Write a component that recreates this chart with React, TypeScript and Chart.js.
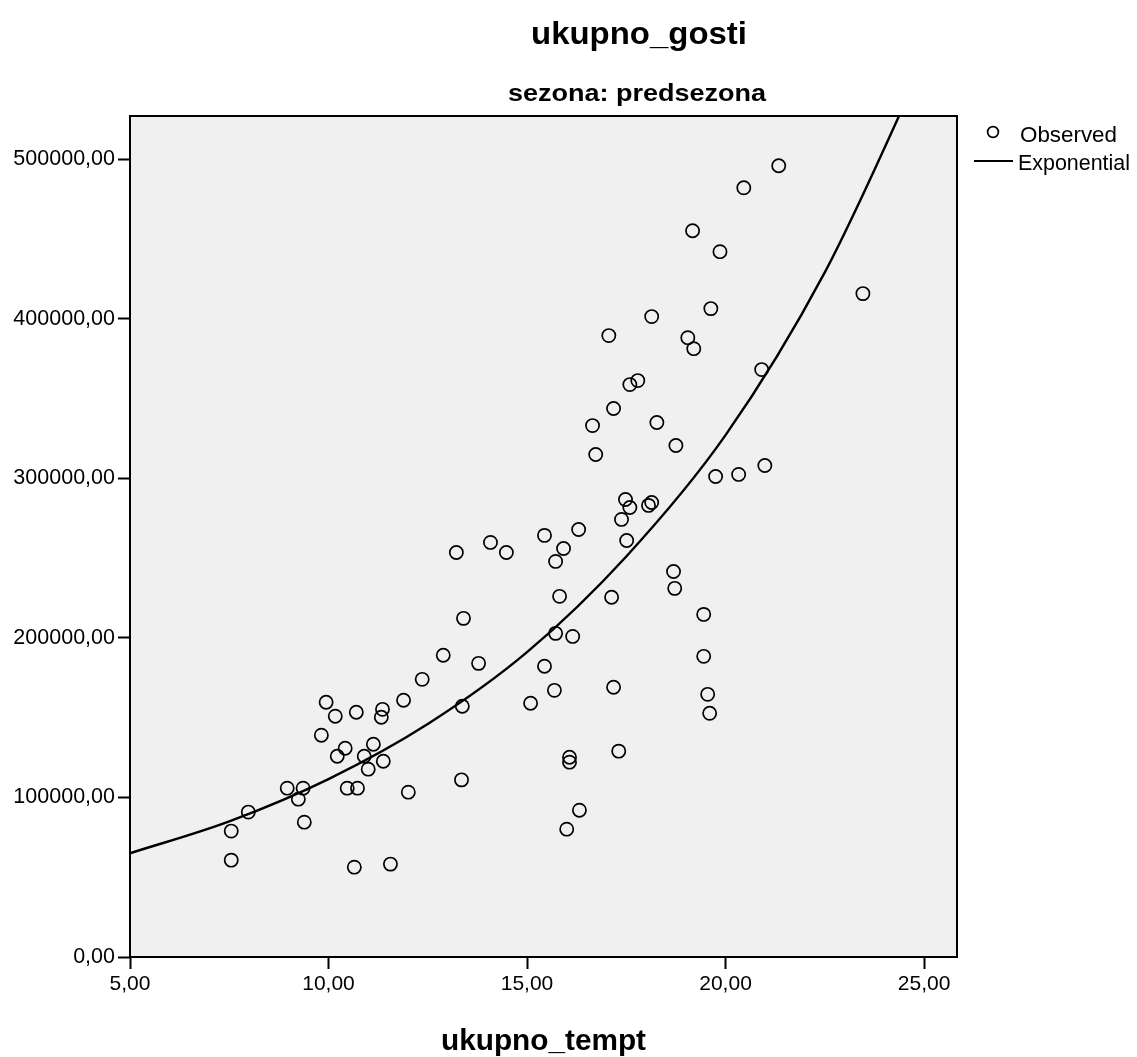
import React, { useEffect, useRef } from "react";
import { Chart, registerables } from "chart.js";

Chart.register(...registerables);

// ---------- texts ----------
const chartTitle = "ukupno_gosti";
const chartSubtitle = "sezona: predsezona";
const xAxisTitle = "ukupno_tempt";
const legendObserved = "Observed";
const legendFit = "Exponential";

// ---------- observed data (ukupno_tempt, ukupno_gosti) ----------
const observedX = [
  7.55, 7.55, 7.98, 8.96, 9.24, 9.36, 9.39, 9.82, 9.94, 10.17,
  10.22, 10.42, 10.47, 10.70, 10.73, 10.65, 10.90, 11.00, 11.13, 11.33,
  11.36, 11.38, 11.56, 11.89, 12.01, 12.36, 12.89, 13.22, 13.35, 13.37,
  13.40, 13.78, 14.08, 14.48, 15.09, 15.44, 15.44, 15.69, 15.72, 15.72,
  15.82, 15.92, 16.00, 16.07, 16.07, 16.15, 16.32, 16.30, 16.65, 16.73,
  17.06, 17.13, 17.18, 17.18, 17.31, 17.38, 17.48, 17.51, 17.59, 17.59,
  17.79, 18.14, 18.06, 18.14, 18.27, 18.69, 18.75, 18.72, 19.05, 19.20,
  19.17, 19.45, 19.45, 19.55, 19.60, 19.63, 19.75, 19.86, 20.46, 20.33,
  20.91, 20.99, 21.34, 23.46,
];
const observedY = [
  78900, 60700, 90800, 105800, 98900, 105800, 84500, 139000, 159600, 150900,
  125800, 130800, 105800, 153400, 105800, 56300, 125800, 117700, 133300, 150200,
  155200, 122700, 58200, 160900, 103300, 174000, 189100, 253500, 111000, 157100,
  212200, 184000, 259800, 253500, 159000, 264200, 182200, 167100, 247900, 202800,
  226000, 256000, 80100, 125200, 122100, 200900, 92000, 267900, 333000, 314900,
  389400, 225400, 343700, 169000, 129000, 274200, 286700, 261000, 281700, 358700,
  361200, 284800, 283000, 401300, 334900, 241600, 320500, 231000, 388100, 381200,
  455100, 214700, 188400, 164600, 152700, 406300, 301100, 442000, 482000, 302400,
  368100, 308000, 495800, 415700,
];

// ---------- fitted exponential curve ----------
const curveX = [5, 7.5, 10, 12.5, 15, 17.5, 20, 22.5, 25];
const curveY = [65000, 85000, 111500, 146000, 191000, 251000, 327000, 429000, 561000];

// ---------- axes ----------
const xTicks = [5, 10, 15, 20, 25];
const yTicks = [0, 100000, 200000, 300000, 400000, 500000];
const xMin = 5;
const xMax = 25.83;
const yMin = 0;
const yMax = 527000;

const FONT = "'Liberation Sans', Arial, Helvetica, sans-serif";
const fmt = (v: number) => v.toFixed(2).replace(".", ",");

function drawFitted(
  ctx: CanvasRenderingContext2D,
  text: string,
  x: number,
  baseline: number,
  font: string,
  width: number,
  align: "center" | "left"
) {
  ctx.save();
  ctx.font = font;
  const w = ctx.measureText(text).width;
  const s = width / w;
  ctx.translate(x, baseline);
  ctx.scale(s, 1);
  ctx.fillStyle = "#000";
  ctx.textAlign = align;
  ctx.textBaseline = "alphabetic";
  ctx.fillText(text, 0, 0);
  ctx.restore();
}

const decorPlugin = {
  id: "decor",
  beforeDraw(chart: any) {
    const { ctx, chartArea: a, width, height } = chart;
    ctx.save();
    ctx.fillStyle = "#ffffff";
    ctx.fillRect(0, 0, width, height);
    ctx.fillStyle = "#f0f0f0";
    ctx.fillRect(a.left, a.top, a.right - a.left, a.bottom - a.top);
    ctx.restore();
  },
  afterDraw(chart: any) {
    const { ctx, chartArea: a } = chart;
    // frame
    ctx.save();
    ctx.strokeStyle = "#000";
    ctx.lineWidth = 2;
    ctx.strokeRect(a.left, a.top, a.right - a.left, a.bottom - a.top);
    ctx.restore();

    // titles
    drawFitted(ctx, chartTitle, 639, 44, `bold 31px ${FONT}`, 216, "center");
    drawFitted(ctx, chartSubtitle, 637, 101, `bold 24px ${FONT}`, 258, "center");
    drawFitted(ctx, xAxisTitle, (a.left + a.right) / 2, 1050, `bold 30px ${FONT}`, 205, "center");

    // legend
    ctx.save();
    ctx.strokeStyle = "#000";
    ctx.lineWidth = 1.7;
    ctx.beginPath();
    ctx.arc(993, 132, 5.4, 0, Math.PI * 2);
    ctx.stroke();
    ctx.lineWidth = 2.2;
    ctx.beginPath();
    ctx.moveTo(974, 161);
    ctx.lineTo(1013, 161);
    ctx.stroke();
    ctx.restore();
    drawFitted(ctx, legendObserved, 1020, 142, `22px ${FONT}`, 97, "left");
    drawFitted(ctx, legendFit, 1018, 170, `22px ${FONT}`, 112, "left");
  },
};

export default function App() {
  const ref = useRef<HTMLCanvasElement>(null);

  useEffect(() => {
    const canvas = ref.current;
    if (!canvas) return;
    const chart = new Chart(canvas, {
      type: "scatter",
      data: {
        datasets: [
          {
            type: "line",
            label: legendFit,
            data: curveX.map((x, i) => ({ x, y: curveY[i] })),
            borderColor: "#000",
            borderWidth: 2.4,
            pointRadius: 0,
            cubicInterpolationMode: "monotone",
            fill: false,
            clip: 0,
          } as any,
          {
            type: "scatter",
            label: legendObserved,
            data: observedX.map((x, i) => ({ x, y: observedY[i] })),
            pointRadius: 6.6,
            pointBorderWidth: 1.7,
            pointBackgroundColor: "rgba(0,0,0,0)",
            pointBorderColor: "#000",
            showLine: false,
          } as any,
        ],
      },
      options: {
        responsive: false,
        animation: false,
        devicePixelRatio: 1,
        events: [],
        layout: { padding: { top: 116, right: 180, bottom: 0, left: 0 } },
        plugins: {
          legend: { display: false },
          tooltip: { enabled: false },
          title: { display: false },
        },
        scales: {
          x: {
            type: "linear",
            position: "bottom",
            min: xMin,
            max: xMax,
            afterBuildTicks: (s: any) => {
              s.ticks = xTicks.map((v) => ({ value: v }));
            },
            afterFit: (s: any) => {
              s.height = 100;
            },
            ticks: {
              color: "#000",
              font: { family: FONT, size: 21 },
              padding: 3,
              maxRotation: 0,
              autoSkip: false,
              callback: (v: any) => fmt(Number(v)),
            },
            grid: {
              display: true,
              drawOnChartArea: false,
              drawTicks: true,
              tickLength: 12,
              tickWidth: 2,
              tickColor: "#000",
            },
            border: { display: false },
          },
          y: {
            type: "linear",
            position: "left",
            min: yMin,
            max: yMax,
            afterBuildTicks: (s: any) => {
              s.ticks = yTicks.map((v) => ({ value: v }));
            },
            afterFit: (s: any) => {
              s.width = 130;
            },
            ticks: {
              color: "#000",
              font: { family: FONT, size: 21.5 },
              padding: 3,
              autoSkip: false,
              callback: (v: any) => fmt(Number(v)),
            },
            grid: {
              display: true,
              drawOnChartArea: false,
              drawTicks: true,
              tickLength: 12,
              tickWidth: 2,
              tickColor: "#000",
            },
            border: { display: false },
          },
        },
      } as any,
      plugins: [decorPlugin],
    });
    return () => chart.destroy();
  }, []);

  return (
    <div
      style={{
        position: "absolute",
        left: 0,
        top: 0,
        width: 1137,
        height: 1057,
        background: "#fff",
      }}
    >
      <canvas
        ref={ref}
        width={1137}
        height={1057}
        style={{ display: "block", width: 1137, height: 1057 }}
      />
    </div>
  );
}
